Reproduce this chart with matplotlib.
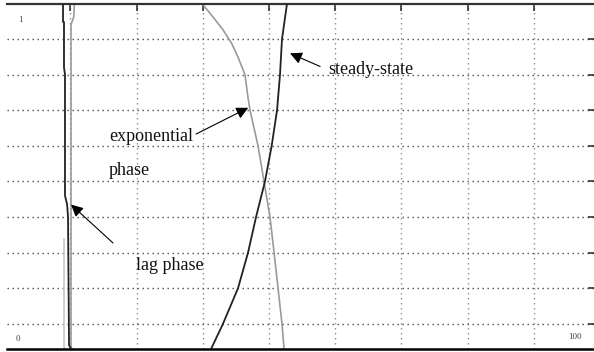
import matplotlib
matplotlib.use('Agg')
import matplotlib.pyplot as plt

plt.rcParams['font.family'] = ['Liberation Serif', 'DejaVu Serif']

# growth curves (x in time units, y relative 0..1)
growth_x = [31.24, 33.05, 35.32, 36.83, 38.04, 39.39, 40.4, 41.21, 41.66, 41.96, 42.72]
growth_y = [0.029, 0.1, 0.2, 0.3, 0.4, 0.5, 0.6, 0.7, 0.8, 0.9, 1.0]

decay_x = [29.88, 31.54, 33.05, 34.41, 35.32, 36.37, 36.83, 37.13, 38.34, 39.24, 40.15, 40.76, 41.36, 41.96, 42.27]
decay_y = [1.0, 0.962, 0.926, 0.886, 0.849, 0.8, 0.735, 0.7, 0.6, 0.5, 0.4, 0.3, 0.2, 0.1, 0.029]

lag_x = [8.88, 8.88, 9.03, 9.03, 9.18, 9.18, 9.5, 9.64, 9.79, 10.1]
lag_y = [1.0, 0.948, 0.948, 0.82, 0.80, 0.46, 0.435, 0.40, 0.04, 0.029]

lag_gray_x = [10.6, 10.5, 10.09, 10.09, 10.24]
lag_gray_y = [1.0, 0.962, 0.94, 0.035, 0.029]

lag_light_x = [9.03, 9.03, 9.18]
lag_light_y = [0.338, 0.035, 0.029]

x_grid = [10, 20, 30, 40, 50, 60, 70, 80]
y_grid = [0.1, 0.2, 0.3, 0.4, 0.5, 0.6, 0.7, 0.8, 0.9]

# (label, text x, text baseline y, arrow tail, arrow tip)
labels = [
    ('steady-state', 48.9, 0.803, (47.72, 0.823), (43.17, 0.860)),
    ('exponential', 15.83, 0.613, (28.97, 0.633), (36.86, 0.707)),
    ('lag phase', 19.9, 0.252, (16.43, 0.327), (10.09, 0.435)),
]

fig = plt.figure(figsize=(5.94, 3.52), dpi=100)
ax = fig.add_axes([7 / 594, 3 / 352, 587 / 594, 345.5 / 352])
ax.set_xlim(0.42, 89.09)
ax.set_ylim(0.029, 1.0)

for gx in x_grid:
    ax.axvline(gx, color='#8a8a8a', lw=1.0, ls=(0, (1, 2.6)), zorder=1)
for gy in y_grid:
    ax.axhline(gy, color='#4a4a4a', lw=1.0, ls=(0, (1, 2.6)), zorder=1)

ax.plot(lag_light_x, lag_light_y, color='#c8c8c8', lw=1.2, zorder=2)
ax.plot(lag_gray_x, lag_gray_y, color='#9a9a9a', lw=1.2, zorder=2)
ax.plot(lag_x, lag_y, color='#222222', lw=1.3, zorder=3)
ax.plot(decay_x, decay_y, color='#9a9a9a', lw=1.2, zorder=2)
ax.plot(growth_x, growth_y, color='#222222', lw=1.3, zorder=3)

for text, tx, ty, tail, tip in labels:
    ax.text(tx, ty, text, fontsize=13, va='baseline', ha='left', color='#111111')
    ax.annotate('', xy=tip, xytext=tail,
                arrowprops=dict(arrowstyle='-|>,head_length=0.6,head_width=0.3',
                                mutation_scale=12, color='black', lw=0.8,
                                shrinkA=0, shrinkB=0))
ax.text(15.83, 0.517, 'phase', fontsize=13, va='baseline', ha='left', color='#111111')

# corner numbers
ax.text(2.1, 0.955, '1', fontsize=6.5, va='center', ha='left', color='#444444')
ax.text(1.7, 0.057, '0', fontsize=6.5, va='center', ha='left', color='#444444')
ax.text(85.2, 0.063, '100', fontsize=6.5, va='center', ha='left', color='#444444')

ax.set_xticks(x_grid)
ax.set_yticks(y_grid)
ax.tick_params(axis='x', which='both', direction='in', top=True, bottom=False,
               labelbottom=False, length=5, width=1.2, color='#333333')
ax.tick_params(axis='y', which='both', direction='in', right=True, left=False,
               labelleft=False, length=4, width=1.2, color='#333333')
ax.spines['left'].set_visible(False)
ax.spines['right'].set_visible(False)
ax.spines['top'].set_color('#333333')
ax.spines['top'].set_linewidth(1.6)
ax.spines['bottom'].set_color('black')
ax.spines['bottom'].set_linewidth(1.8)

fig.savefig('out.png', dpi=100)
